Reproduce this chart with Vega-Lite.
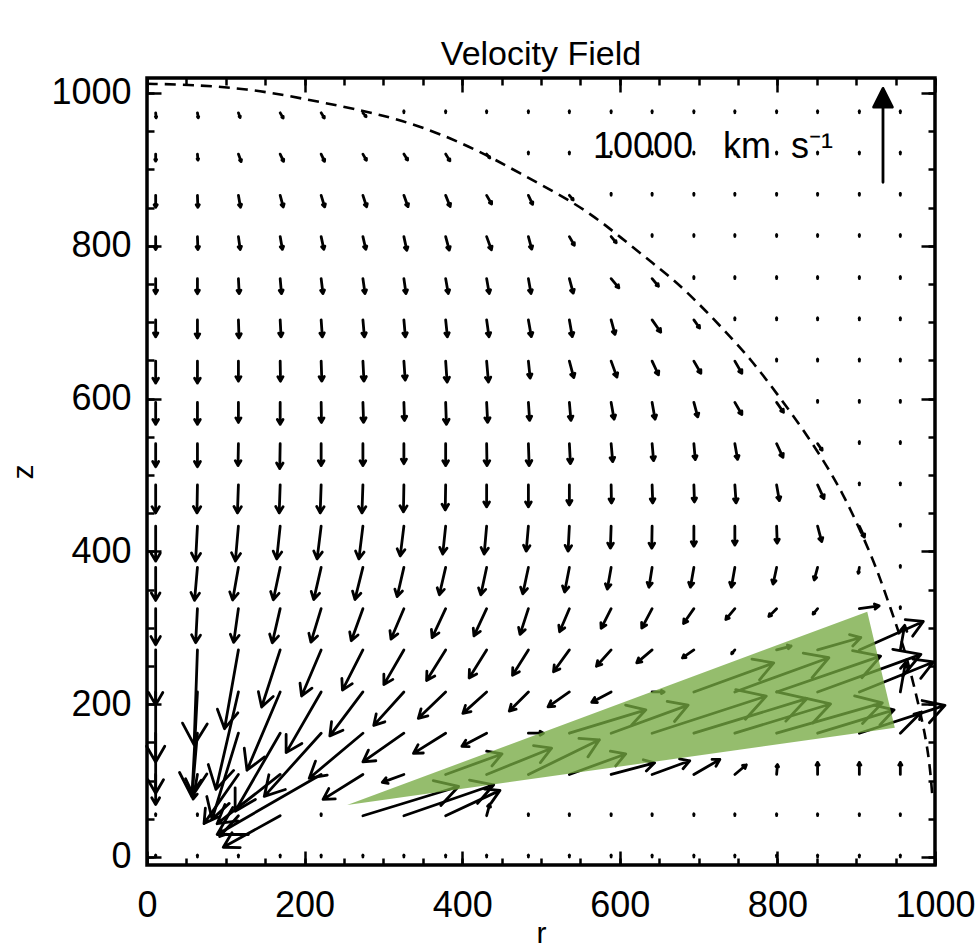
{
"$schema":"https://vega.github.io/schema/vega-lite/v6.json",
"width":788,"height":787,
"autosize":{"type":"none"},
"padding":{"left":147,"top":78,"right":40,"bottom":87},
"background":"white",
"config":{"view":{"stroke":"black","strokeWidth":3.5},"font":"Liberation Sans",
"axis":{"domain":false,"grid":false,"tickColor":"black","tickWidth":2.5,"labelFont":"Liberation Sans","labelFontSize":36,"labelColor":"black","titleFont":"Liberation Sans","titleFontSize":30,"titleFontWeight":"normal","titleColor":"black","labelOverlap":false,"labelFlush":false,"labelBound":false}},
"title":{"text":"Velocity Field","fontSize":34,"fontWeight":"normal","font":"Liberation Sans","color":"black","offset":3},
"datasets":{
"circle":[{"r":0,"z":1012},{"r":55,"z":1011},{"r":135,"z":1005},{"r":211,"z":990},{"r":279,"z":976},{"r":334,"z":961},{"r":385,"z":941},{"r":431,"z":919},{"r":473,"z":895},{"r":520,"z":869},{"r":562,"z":843},{"r":600,"z":812},{"r":642,"z":777},{"r":680,"z":746},{"r":736,"z":686},{"r":769,"z":648},{"r":799,"z":607},{"r":829,"z":565},{"r":858,"z":520},{"r":883,"z":476},{"r":905,"z":428},{"r":926,"z":378},{"r":943,"z":327},{"r":962,"z":271},{"r":978,"z":205},{"r":989,"z":153},{"r":994,"z":114},{"r":997,"z":75}],
"green":[{"r":254,"z":68,"z2":68},{"r":914,"z":321,"z2":164},{"r":949,"z":169,"z2":169}],
"ref":[{"r":934,"z":883,"s":10000,"d":0}],
"label":[{"r":566,"z":915,"t":"10000\u00a0\u00a0\u00a0km\u00a0\u00a0s⁻¹"}],
"arrows":[
{"r":11,"z":974,"s":530,"d":175},{"r":64,"z":974,"s":530,"d":170},{"r":116,"z":974,"s":530,"d":160},{"r":169,"z":974,"s":640,"d":150},{"r":221,"z":974,"s":640,"d":148},{"r":274,"z":974,"s":530,"d":140},{"r":326,"z":974,"s":200,"d":0},{"r":379,"z":974,"s":200,"d":0},{"r":431,"z":974,"s":200,"d":0},{"r":484,"z":974,"s":200,"d":0},{"r":536,"z":974,"s":200,"d":0},{"r":589,"z":974,"s":200,"d":0},{"r":641,"z":974,"s":200,"d":0},{"r":694,"z":974,"s":200,"d":0},{"r":746,"z":974,"s":200,"d":0},{"r":799,"z":974,"s":200,"d":0},{"r":851,"z":974,"s":200,"d":0},{"r":904,"z":974,"s":200,"d":0},{"r":956,"z":974,"s":200,"d":0},
{"r":11,"z":920,"s":750,"d":180},{"r":64,"z":920,"s":640,"d":175},{"r":116,"z":920,"s":850,"d":160},{"r":169,"z":920,"s":850,"d":155},{"r":221,"z":920,"s":850,"d":155},{"r":274,"z":920,"s":750,"d":150},{"r":326,"z":920,"s":750,"d":148},{"r":379,"z":920,"s":850,"d":148},{"r":431,"z":920,"s":530,"d":140},{"r":484,"z":920,"s":200,"d":0},{"r":536,"z":920,"s":200,"d":0},{"r":589,"z":920,"s":200,"d":0},{"r":641,"z":920,"s":200,"d":0},{"r":694,"z":920,"s":200,"d":0},{"r":746,"z":920,"s":200,"d":0},{"r":799,"z":920,"s":200,"d":0},{"r":851,"z":920,"s":200,"d":0},{"r":904,"z":920,"s":200,"d":0},{"r":956,"z":920,"s":200,"d":0},
{"r":11,"z":866,"s":1280,"d":180},{"r":64,"z":866,"s":1280,"d":178},{"r":116,"z":866,"s":1280,"d":170},{"r":169,"z":866,"s":1280,"d":165},{"r":221,"z":866,"s":1280,"d":163},{"r":274,"z":866,"s":1280,"d":162},{"r":326,"z":866,"s":1280,"d":160},{"r":379,"z":866,"s":1280,"d":158},{"r":431,"z":866,"s":1060,"d":150},{"r":484,"z":866,"s":1060,"d":155},{"r":536,"z":866,"s":640,"d":140},{"r":589,"z":866,"s":200,"d":0},{"r":641,"z":866,"s":200,"d":0},{"r":694,"z":866,"s":200,"d":0},{"r":746,"z":866,"s":200,"d":0},{"r":799,"z":866,"s":200,"d":0},{"r":851,"z":866,"s":200,"d":0},{"r":904,"z":866,"s":200,"d":0},{"r":956,"z":866,"s":200,"d":0},
{"r":11,"z":812,"s":1380,"d":180},{"r":64,"z":812,"s":1380,"d":178},{"r":116,"z":812,"s":1380,"d":172},{"r":169,"z":812,"s":1380,"d":170},{"r":221,"z":812,"s":1380,"d":168},{"r":274,"z":812,"s":1380,"d":167},{"r":326,"z":812,"s":1490,"d":168},{"r":379,"z":812,"s":1490,"d":165},{"r":431,"z":812,"s":1490,"d":160},{"r":484,"z":812,"s":1380,"d":165},{"r":536,"z":812,"s":1060,"d":150},{"r":589,"z":812,"s":850,"d":140},{"r":641,"z":812,"s":200,"d":0},{"r":694,"z":812,"s":200,"d":0},{"r":746,"z":812,"s":200,"d":0},{"r":799,"z":812,"s":200,"d":0},{"r":851,"z":812,"s":200,"d":0},{"r":904,"z":812,"s":200,"d":0},{"r":956,"z":812,"s":200,"d":0},
{"r":11,"z":757,"s":1600,"d":180},{"r":64,"z":757,"s":1600,"d":180},{"r":116,"z":757,"s":1600,"d":177},{"r":169,"z":757,"s":1600,"d":175},{"r":221,"z":757,"s":1600,"d":173},{"r":274,"z":757,"s":1600,"d":172},{"r":326,"z":757,"s":1600,"d":172},{"r":379,"z":757,"s":1600,"d":170},{"r":431,"z":757,"s":1600,"d":170},{"r":484,"z":757,"s":1600,"d":170},{"r":536,"z":757,"s":1600,"d":165},{"r":589,"z":757,"s":1280,"d":140},{"r":641,"z":757,"s":1060,"d":140},{"r":694,"z":757,"s":200,"d":0},{"r":746,"z":757,"s":200,"d":0},{"r":799,"z":757,"s":200,"d":0},{"r":851,"z":757,"s":200,"d":0},{"r":904,"z":757,"s":200,"d":0},{"r":956,"z":757,"s":200,"d":0},
{"r":11,"z":703,"s":1810,"d":180},{"r":64,"z":703,"s":1920,"d":180},{"r":116,"z":703,"s":1920,"d":178},{"r":169,"z":703,"s":1810,"d":177},{"r":221,"z":703,"s":1810,"d":176},{"r":274,"z":703,"s":1810,"d":175},{"r":326,"z":703,"s":1810,"d":175},{"r":379,"z":703,"s":1810,"d":174},{"r":431,"z":703,"s":1810,"d":172},{"r":484,"z":703,"s":1810,"d":170},{"r":536,"z":703,"s":1810,"d":170},{"r":589,"z":703,"s":1600,"d":165},{"r":641,"z":703,"s":1600,"d":145},{"r":694,"z":703,"s":1060,"d":145},{"r":746,"z":703,"s":200,"d":0},{"r":799,"z":703,"s":200,"d":0},{"r":851,"z":703,"s":200,"d":0},{"r":904,"z":703,"s":200,"d":0},{"r":956,"z":703,"s":200,"d":0},
{"r":11,"z":649,"s":2340,"d":180},{"r":64,"z":649,"s":2340,"d":180},{"r":116,"z":649,"s":2130,"d":180},{"r":169,"z":649,"s":2130,"d":179},{"r":221,"z":649,"s":2130,"d":178},{"r":274,"z":649,"s":2130,"d":177},{"r":326,"z":649,"s":2020,"d":176},{"r":379,"z":649,"s":2230,"d":176},{"r":431,"z":649,"s":2230,"d":175},{"r":484,"z":649,"s":1810,"d":174},{"r":536,"z":649,"s":1810,"d":165},{"r":589,"z":649,"s":1810,"d":160},{"r":641,"z":649,"s":1600,"d":155},{"r":694,"z":649,"s":1490,"d":150},{"r":746,"z":649,"s":1490,"d":150},{"r":799,"z":649,"s":200,"d":0},{"r":851,"z":649,"s":200,"d":0},{"r":904,"z":649,"s":200,"d":0},{"r":956,"z":649,"s":200,"d":0},
{"r":11,"z":595,"s":2340,"d":180},{"r":64,"z":595,"s":2340,"d":180},{"r":116,"z":595,"s":2130,"d":180},{"r":169,"z":595,"s":2340,"d":180},{"r":221,"z":595,"s":2130,"d":179},{"r":274,"z":595,"s":2130,"d":178},{"r":326,"z":595,"s":1920,"d":178},{"r":379,"z":595,"s":2340,"d":178},{"r":431,"z":595,"s":2130,"d":177},{"r":484,"z":595,"s":1920,"d":176},{"r":536,"z":595,"s":1920,"d":175},{"r":589,"z":595,"s":1810,"d":170},{"r":641,"z":595,"s":1810,"d":170},{"r":694,"z":595,"s":1600,"d":165},{"r":746,"z":595,"s":1490,"d":150},{"r":799,"z":595,"s":1280,"d":145},{"r":851,"z":595,"s":200,"d":0},{"r":904,"z":595,"s":200,"d":0},{"r":956,"z":595,"s":200,"d":0},
{"r":11,"z":541,"s":2450,"d":180},{"r":64,"z":541,"s":2450,"d":180},{"r":116,"z":541,"s":2340,"d":181},{"r":169,"z":541,"s":2660,"d":181},{"r":221,"z":541,"s":2340,"d":180},{"r":274,"z":541,"s":2340,"d":180},{"r":326,"z":541,"s":2130,"d":180},{"r":379,"z":541,"s":2340,"d":180},{"r":431,"z":541,"s":2340,"d":179},{"r":484,"z":541,"s":2340,"d":178},{"r":536,"z":541,"s":2130,"d":177},{"r":589,"z":541,"s":1920,"d":175},{"r":641,"z":541,"s":1810,"d":175},{"r":694,"z":541,"s":1700,"d":175},{"r":746,"z":541,"s":1700,"d":170},{"r":799,"z":541,"s":1600,"d":155},{"r":851,"z":541,"s":850,"d":145},{"r":904,"z":541,"s":200,"d":0},{"r":956,"z":541,"s":200,"d":0},
{"r":11,"z":487,"s":2980,"d":180},{"r":64,"z":487,"s":2980,"d":181},{"r":116,"z":487,"s":2980,"d":182},{"r":169,"z":487,"s":2980,"d":182},{"r":221,"z":487,"s":2980,"d":182},{"r":274,"z":487,"s":2980,"d":182},{"r":326,"z":487,"s":2870,"d":181},{"r":379,"z":487,"s":2660,"d":181},{"r":431,"z":487,"s":2340,"d":180},{"r":484,"z":487,"s":2340,"d":180},{"r":536,"z":487,"s":2130,"d":180},{"r":589,"z":487,"s":1920,"d":179},{"r":641,"z":487,"s":1920,"d":178},{"r":694,"z":487,"s":1810,"d":178},{"r":746,"z":487,"s":1920,"d":176},{"r":799,"z":487,"s":1700,"d":170},{"r":851,"z":487,"s":1600,"d":155},{"r":904,"z":487,"s":200,"d":0},{"r":956,"z":487,"s":200,"d":0},
{"r":11,"z":433,"s":3720,"d":180},{"r":64,"z":433,"s":3720,"d":183},{"r":116,"z":433,"s":3720,"d":185},{"r":169,"z":433,"s":3510,"d":186},{"r":221,"z":433,"s":3510,"d":187},{"r":274,"z":433,"s":3510,"d":187},{"r":326,"z":433,"s":3190,"d":187},{"r":379,"z":433,"s":2980,"d":186},{"r":431,"z":433,"s":2980,"d":185},{"r":484,"z":433,"s":2660,"d":185},{"r":536,"z":433,"s":2660,"d":183},{"r":589,"z":433,"s":2340,"d":182},{"r":641,"z":433,"s":2340,"d":181},{"r":694,"z":433,"s":2130,"d":180},{"r":746,"z":433,"s":2020,"d":180},{"r":799,"z":433,"s":1810,"d":178},{"r":851,"z":433,"s":1700,"d":165},{"r":904,"z":433,"s":1280,"d":155},{"r":956,"z":433,"s":200,"d":0},
{"r":11,"z":379,"s":3510,"d":180},{"r":64,"z":379,"s":3510,"d":185},{"r":116,"z":379,"s":3510,"d":190},{"r":169,"z":379,"s":3510,"d":192},{"r":221,"z":379,"s":3510,"d":193},{"r":274,"z":379,"s":3510,"d":194},{"r":326,"z":379,"s":3190,"d":193},{"r":379,"z":379,"s":2980,"d":193},{"r":431,"z":379,"s":2980,"d":192},{"r":484,"z":379,"s":2870,"d":192},{"r":536,"z":379,"s":2660,"d":191},{"r":589,"z":379,"s":2340,"d":190},{"r":641,"z":379,"s":2130,"d":189},{"r":694,"z":379,"s":2130,"d":190},{"r":746,"z":379,"s":2130,"d":190},{"r":799,"z":379,"s":1810,"d":192},{"r":851,"z":379,"s":1380,"d":195},{"r":904,"z":379,"s":640,"d":190},{"r":956,"z":379,"s":200,"d":0},
{"r":11,"z":325,"s":3830,"d":180},{"r":64,"z":325,"s":3620,"d":183},{"r":116,"z":325,"s":3620,"d":188},{"r":169,"z":325,"s":3720,"d":193},{"r":221,"z":325,"s":3720,"d":197},{"r":274,"z":325,"s":3620,"d":200},{"r":326,"z":325,"s":3510,"d":203},{"r":379,"z":325,"s":3400,"d":205},{"r":431,"z":325,"s":3190,"d":205},{"r":484,"z":325,"s":2870,"d":198},{"r":536,"z":325,"s":2660,"d":203},{"r":589,"z":325,"s":2340,"d":207},{"r":641,"z":325,"s":2340,"d":208},{"r":694,"z":325,"s":1920,"d":215},{"r":746,"z":325,"s":1490,"d":220},{"r":799,"z":325,"s":1170,"d":225},{"r":851,"z":325,"s":750,"d":220},{"r":904,"z":325,"s":2130,"d":82},{"r":956,"z":325,"s":200,"d":0},
{"r":11,"z":271,"s":5850,"d":180},{"r":64,"z":271,"s":10110,"d":182},{"r":116,"z":271,"s":8510,"d":190},{"r":169,"z":271,"s":6380,"d":198},{"r":221,"z":271,"s":5320,"d":203},{"r":274,"z":271,"s":4790,"d":207},{"r":326,"z":271,"s":4260,"d":210},{"r":379,"z":271,"s":3830,"d":212},{"r":431,"z":271,"s":3510,"d":212},{"r":484,"z":271,"s":3190,"d":212},{"r":536,"z":271,"s":2870,"d":216},{"r":589,"z":271,"s":2340,"d":222},{"r":641,"z":271,"s":2130,"d":230},{"r":694,"z":271,"s":1490,"d":235},{"r":746,"z":271,"s":530,"d":220},{"r":799,"z":271,"s":1600,"d":75},{"r":851,"z":271,"s":4790,"d":74},{"r":904,"z":271,"s":7450,"d":66},{"r":956,"z":271,"s":2660,"d":10},
{"r":11,"z":216,"s":7450,"d":180},{"r":64,"z":216,"s":11170,"d":183},{"r":116,"z":216,"s":10640,"d":193},{"r":169,"z":216,"s":9040,"d":203},{"r":221,"z":216,"s":7450,"d":210},{"r":274,"z":216,"s":5850,"d":217},{"r":326,"z":216,"s":4790,"d":222},{"r":379,"z":216,"s":4040,"d":226},{"r":431,"z":216,"s":3400,"d":228},{"r":484,"z":216,"s":2870,"d":225},{"r":536,"z":216,"s":2770,"d":235},{"r":589,"z":216,"s":2340,"d":242},{"r":641,"z":216,"s":1280,"d":90},{"r":694,"z":216,"s":9040,"d":70},{"r":746,"z":216,"s":10640,"d":70},{"r":799,"z":216,"s":11700,"d":71},{"r":851,"z":216,"s":11700,"d":70},{"r":904,"z":216,"s":8510,"d":68},{"r":956,"z":216,"s":3190,"d":10},
{"r":11,"z":162,"s":6380,"d":180},{"r":64,"z":162,"s":6380,"d":185},{"r":116,"z":162,"s":9580,"d":197},{"r":169,"z":162,"s":9580,"d":210},{"r":221,"z":162,"s":9040,"d":222},{"r":274,"z":162,"s":7450,"d":230},{"r":326,"z":162,"s":5320,"d":235},{"r":379,"z":162,"s":4040,"d":238},{"r":431,"z":162,"s":2980,"d":242},{"r":484,"z":162,"s":1600,"d":90},{"r":536,"z":162,"s":8510,"d":73},{"r":589,"z":162,"s":8720,"d":70},{"r":641,"z":162,"s":12770,"d":72},{"r":694,"z":162,"s":12560,"d":73},{"r":746,"z":162,"s":10640,"d":73},{"r":799,"z":162,"s":11700,"d":74},{"r":851,"z":162,"s":8510,"d":73},{"r":904,"z":162,"s":9580,"d":72},{"r":956,"z":162,"s":3190,"d":45},
{"r":11,"z":108,"s":3190,"d":180},{"r":64,"z":108,"s":2660,"d":190},{"r":116,"z":108,"s":6380,"d":215},{"r":169,"z":108,"s":8510,"d":232},{"r":221,"z":108,"s":12770,"d":240},{"r":274,"z":108,"s":5000,"d":238},{"r":326,"z":108,"s":2450,"d":250},{"r":379,"z":108,"s":6380,"d":70},{"r":431,"z":108,"s":7450,"d":68},{"r":484,"z":108,"s":8410,"d":64},{"r":536,"z":108,"s":6380,"d":70},{"r":589,"z":108,"s":4790,"d":75},{"r":641,"z":108,"s":4260,"d":70},{"r":694,"z":108,"s":3190,"d":60},{"r":746,"z":108,"s":1600,"d":50},{"r":799,"z":108,"s":1060,"d":5},{"r":851,"z":108,"s":1280,"d":0},{"r":904,"z":108,"s":1280,"d":0},{"r":956,"z":108,"s":1280,"d":0},
{"r":11,"z":54,"s":200,"d":0},{"r":64,"z":54,"s":200,"d":0},{"r":116,"z":54,"s":2980,"d":222},{"r":169,"z":54,"s":6920,"d":241},{"r":221,"z":54,"s":200,"d":0},{"r":274,"z":54,"s":10640,"d":73},{"r":326,"z":54,"s":10110,"d":71},{"r":379,"z":54,"s":6380,"d":65},{"r":431,"z":54,"s":1280,"d":15},{"r":484,"z":54,"s":200,"d":0},{"r":536,"z":54,"s":200,"d":0},{"r":589,"z":54,"s":200,"d":0},{"r":641,"z":54,"s":200,"d":0},{"r":694,"z":54,"s":200,"d":0},{"r":746,"z":54,"s":200,"d":0},{"r":799,"z":54,"s":200,"d":0},{"r":851,"z":54,"s":200,"d":0},{"r":904,"z":54,"s":200,"d":0},{"r":956,"z":54,"s":200,"d":0},
{"r":11,"z":0,"s":200,"d":0},{"r":64,"z":0,"s":200,"d":0},{"r":116,"z":0,"s":200,"d":0},{"r":169,"z":0,"s":200,"d":0},{"r":221,"z":0,"s":200,"d":0},{"r":274,"z":0,"s":200,"d":0},{"r":326,"z":0,"s":200,"d":0},{"r":379,"z":0,"s":200,"d":0},{"r":431,"z":0,"s":200,"d":0},{"r":484,"z":0,"s":200,"d":0},{"r":536,"z":0,"s":200,"d":0},{"r":589,"z":0,"s":200,"d":0},{"r":641,"z":0,"s":200,"d":0},{"r":694,"z":0,"s":200,"d":0},{"r":746,"z":0,"s":200,"d":0},{"r":799,"z":0,"s":200,"d":0},{"r":851,"z":0,"s":200,"d":0},{"r":904,"z":0,"s":200,"d":0},{"r":956,"z":0,"s":200,"d":0}
]},
"layer":[
{"data":{"name":"circle"},
 "mark":{"type":"line","stroke":"black","strokeWidth":2.6,"strokeDash":[11,7],"interpolate":"basis"},
 "encoding":{
  "x":{"field":"r","type":"quantitative","scale":{"domain":[0,1000],"nice":false,"zero":false},"axis":{"orient":"top","values":[0,200,400,600,800,1000],"tickSize":-14,"labels":false,"title":null}},
  "y":{"field":"z","type":"quantitative","scale":{"domain":[-10.5,1019.6],"nice":false,"zero":false},"axis":{"orient":"right","values":[0,200,400,600,800,1000],"tickSize":-14,"labels":false,"title":null}}}},
{"data":{"name":"arrows"},
 "mark":{"type":"point","shape":"M0,0L0,-2M-0.26,-1.55L0,-2L0.26,-1.55","filled":false,"stroke":"black","strokeWidth":2.8,"strokeCap":"round","strokeJoin":"round","opacity":1},
 "encoding":{
  "x":{"field":"r","type":"quantitative","scale":{"domain":[0,1000],"nice":false,"zero":false},"axis":{"orient":"bottom","values":[0,200,400,600,800,1000],"tickSize":-14,"labelPadding":37,"title":"r","titlePadding":-5,"format":"d"}},
  "y":{"field":"z","type":"quantitative","scale":{"domain":[-10.5,1019.6],"nice":false,"zero":false},"axis":{"orient":"left","values":[0,200,400,600,800,1000],"tickSize":-14,"labelPadding":30,"title":"z","titlePadding":12,"format":"d"}},
  "size":{"field":"s","type":"quantitative","scale":{"type":"pow","exponent":2,"domain":[0,10000],"range":[0,8836],"zero":true},"legend":null},
  "angle":{"field":"d","type":"quantitative","scale":null}}},
{"data":{"name":"ref"},
 "mark":{"type":"point","shape":"M0,0L0,-1.7M-0.2,-1.6L0,-2L0.2,-1.6Z","filled":true,"fill":"black","stroke":"black","strokeWidth":2.8,"strokeCap":"round","strokeJoin":"round","opacity":1},
 "encoding":{
  "x":{"field":"r","type":"quantitative","axis":{"orient":"top","values":[0,50,100,150,200,250,300,350,400,450,500,550,600,650,700,750,800,850,900,950,1000],"tickSize":-7,"labels":false,"title":null}},
  "y":{"field":"z","type":"quantitative","axis":{"orient":"right","values":[0,50,100,150,200,250,300,350,400,450,500,550,600,650,700,750,800,850,900,950,1000],"tickSize":-7,"labels":false,"title":null}},
  "size":{"field":"s","type":"quantitative","legend":null},
  "angle":{"field":"d","type":"quantitative","scale":null}}},
{"data":{"name":"label"},
 "mark":{"type":"text","font":"Liberation Sans","fontSize":36,"align":"left","baseline":"alphabetic","color":"black"},
 "encoding":{
  "x":{"field":"r","type":"quantitative","axis":null},
  "y":{"field":"z","type":"quantitative","axis":null},
  "text":{"field":"t"}}},
{"data":{"name":"green"},
 "mark":{"type":"area","color":"#75A941","opacity":0.77},
 "encoding":{
  "x":{"field":"r","type":"quantitative","axis":{"orient":"bottom","values":[0,50,100,150,200,250,300,350,400,450,500,550,600,650,700,750,800,850,900,950,1000],"tickSize":-7,"labels":false,"title":null}},
  "y":{"field":"z","type":"quantitative","axis":{"orient":"left","values":[0,50,100,150,200,250,300,350,400,450,500,550,600,650,700,750,800,850,900,950,1000],"tickSize":-7,"labels":false,"title":null}},
  "y2":{"field":"z2"}}}
],
"resolve":{"axis":{"x":"independent","y":"independent"}}
}
